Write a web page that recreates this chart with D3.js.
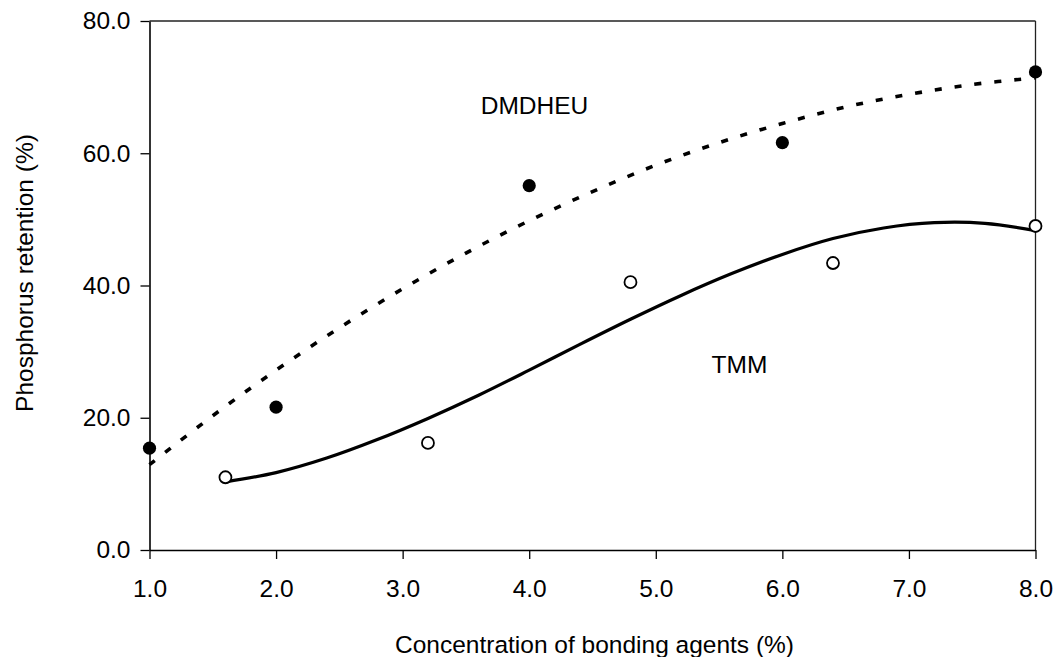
<!DOCTYPE html>
<html>
<head>
<meta charset="utf-8">
<script src="https://cdn.jsdelivr.net/npm/d3@7"></script>
<style>
  html, body { margin: 0; padding: 0; background: #fff; }
  svg { display: block; font-family: "Liberation Sans", Arial, sans-serif; }
</style>
</head>
<body>
<svg id="chart" width="1057" height="657"></svg>
<script>
// Measured retention values for the two bonding agents
const dmdheuConc = [1.0, 2.0, 4.0, 6.0, 8.0];
const dmdheuRetention = [15.4, 21.6, 55.1, 61.6, 72.3];

const tmmConc = [1.6, 3.2, 4.8, 6.4, 8.0];
const tmmRetention = [11.0, 16.2, 40.5, 43.4, 49.0];

// Fitted trend curves (sampled along the concentration axis)
const dmdheuTrendConc = [1.0, 1.5, 2.0, 2.5, 3.0, 3.5, 4.0, 4.5, 5.0, 5.5, 6.0, 6.5, 7.0, 7.5, 8.0];
const dmdheuTrendValues = [12.9, 20.3, 27.2, 33.6, 39.5, 44.9, 49.8, 54.2, 58.2, 61.6, 64.5, 67.0, 68.9, 70.4, 71.4];

const tmmTrendConc = [1.6, 2.0, 2.4, 2.8, 3.2, 3.6, 4.0, 4.4, 4.8, 5.2, 5.6, 6.0, 6.4, 6.8, 7.2, 7.6, 8.0];
const tmmTrendValues = [10.3, 11.7, 13.9, 16.7, 19.9, 23.4, 27.2, 31.1, 34.9, 38.5, 41.8, 44.7, 47.1, 48.7, 49.5, 49.4, 48.3];

// Axis ticks
const xTicks = [1, 2, 3, 4, 5, 6, 7, 8];
const yTicks = [0, 20, 40, 60, 80];

const svg = d3.select("#chart");
const fontSize = 24.5;

const x = d3.scaleLinear().domain([1, 8]).range([149.5, 1035.5]);
const y = d3.scaleLinear().domain([0, 80]).range([550, 21]);

// Plot frame: top and right edges
svg.append("line")
  .attr("x1", x(1)).attr("x2", x(8))
  .attr("y1", y(80)).attr("y2", y(80))
  .attr("stroke", "#222").attr("stroke-width", 1.3);
svg.append("line")
  .attr("x1", x(8)).attr("x2", x(8))
  .attr("y1", y(80)).attr("y2", y(0))
  .attr("stroke", "#222").attr("stroke-width", 1.3);

// Y axis
const yAxis = svg.append("g")
  .attr("transform", `translate(${x(1)},0)`)
  .call(d3.axisLeft(y).tickValues(yTicks).tickFormat(d3.format(".1f")).tickSize(9).tickSizeOuter(0).tickPadding(10));

// X axis
const xAxis = svg.append("g")
  .attr("transform", `translate(0,${y(0)})`)
  .call(d3.axisBottom(x).tickValues(xTicks).tickFormat(d3.format(".1f")).tickSize(9).tickSizeOuter(0).tickPadding(21));

[yAxis, xAxis].forEach(g => {
  g.select(".domain").attr("stroke", "#000").attr("stroke-width", 1.6);
  g.selectAll(".tick line").attr("stroke", "#000").attr("stroke-width", 1.3);
  g.selectAll(".tick text")
    .attr("fill", "#000")
    .style("font-size", fontSize + "px")
    .style("font-family", '"Liberation Sans", Arial, sans-serif');
});

// Axis titles
svg.append("text")
  .attr("x", 594.5).attr("y", 653)
  .attr("text-anchor", "middle")
  .style("font-size", fontSize + "px")
  .text("Concentration of bonding agents (%)");

svg.append("text")
  .attr("transform", "translate(33,273) rotate(-90)")
  .attr("text-anchor", "middle")
  .style("font-size", fontSize + "px")
  .text("Phosphorus retention (%)");

// Trend curves
const line = d3.line()
  .x(d => x(d[0]))
  .y(d => y(d[1]))
  .curve(d3.curveCatmullRom.alpha(0.5));

svg.append("path")
  .datum(d3.zip(dmdheuTrendConc, dmdheuTrendValues))
  .attr("d", line)
  .attr("fill", "none")
  .attr("stroke", "#000")
  .attr("stroke-width", 3.6)
  .attr("stroke-dasharray", "7,13");

svg.append("path")
  .datum(d3.zip(tmmTrendConc, tmmTrendValues))
  .attr("d", line)
  .attr("fill", "none")
  .attr("stroke", "#000")
  .attr("stroke-width", 3.2)
  .attr("stroke-linejoin", "round");

// Data points
svg.append("g").selectAll("circle")
  .data(d3.zip(dmdheuConc, dmdheuRetention))
  .join("circle")
  .attr("cx", d => x(d[0]))
  .attr("cy", d => y(d[1]))
  .attr("r", 6.6)
  .attr("fill", "#000");

svg.append("g").selectAll("circle")
  .data(d3.zip(tmmConc, tmmRetention))
  .join("circle")
  .attr("cx", d => x(d[0]))
  .attr("cy", d => y(d[1]))
  .attr("r", 6)
  .attr("fill", "#fff")
  .attr("stroke", "#000")
  .attr("stroke-width", 1.8);

// Series labels
svg.append("text")
  .attr("x", 534.5).attr("y", 114)
  .attr("text-anchor", "middle")
  .style("font-size", fontSize + "px")
  .text("DMDHEU");

svg.append("text")
  .attr("x", 739.5).attr("y", 372.5)
  .attr("text-anchor", "middle")
  .style("font-size", fontSize + "px")
  .text("TMM");
</script>
</body>
</html>
